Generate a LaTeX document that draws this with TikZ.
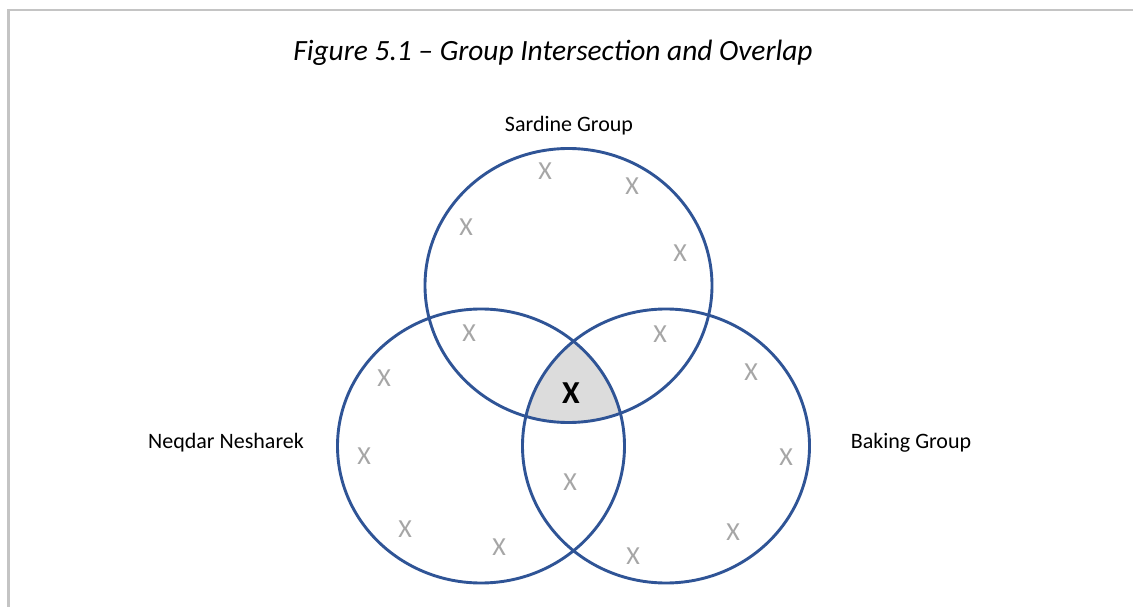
\documentclass[tikz,border=0pt]{standalone}
\usepackage{fontspec}
\setmainfont{Carlito}
\usetikzlibrary{shapes.geometric}
\definecolor{vblue}{HTML}{2F5496}
\definecolor{xgray}{HTML}{A6A6A6}
\definecolor{framegray}{HTML}{C4C4C4}
\definecolor{fillgray}{HTML}{DCDCDC}
\begin{document}
\begin{tikzpicture}[x=1pt,y=-1pt,
  venn/.style={draw=vblue,line width=2.9pt},
  xmark/.style={text=xgray,font=\fontsize{26}{26}\selectfont,inner sep=0pt},
  lbl/.style={font=\fontsize{22}{24}\selectfont,inner sep=0pt},
  frameline/.style={draw=framegray,line width=2.4pt}]
\useasboundingbox (0,0) rectangle (1133,607);
\fill[white] (0,0) rectangle (1133,607);
% frame
\coordinate (fTR) at (1133,10);
\coordinate (fTL) at (8.3,10);
\coordinate (fBL) at (8.3,607);
\draw[frameline] (fTR) -- (fTL) -- (fBL);
% intersection fill
\begin{scope}
  \clip (568.5,285.5) ellipse [x radius=143.5, y radius=137];
  \clip (481,446) ellipse [x radius=143.5, y radius=137];
  \fill[fillgray] (666,446) ellipse [x radius=143.5, y radius=137];
\end{scope}
% circles
\draw[venn] (568.5,285.5) ellipse [x radius=143.5, y radius=137];
\draw[venn] (481,446) ellipse [x radius=143.5, y radius=137];
\draw[venn] (666,446) ellipse [x radius=143.5, y radius=137];
% title and labels
\node[font=\fontsize{29.4}{32}\selectfont\itshape,inner sep=0pt] (title) at (553,53) {Figure 5.1 – Group Intersection and Overlap};
\node[lbl] (sardine) at (569,126) {Sardine Group};
\node[lbl] (neqdar) at (226,443) {Neqdar Nesharek};
\node[lbl] (baking) at (911,443) {Baking Group};
% gray X marks
\node[xmark] (x1) at (545,171) {X};
\node[xmark] (x2) at (632,186) {X};
\node[xmark] (x3) at (466,227) {X};
\node[xmark] (x4) at (680,253) {X};
\node[xmark] (x5) at (469,333) {X};
\node[xmark] (x6) at (660,334) {X};
\node[xmark] (x7) at (384,378) {X};
\node[xmark] (x8) at (364,456) {X};
\node[xmark] (x9) at (405,529) {X};
\node[xmark] (x10) at (499,547) {X};
\node[xmark] (x11) at (751,372) {X};
\node[xmark] (x12) at (786,457) {X};
\node[xmark] (x13) at (733,532) {X};
\node[xmark] (x14) at (633,556) {X};
\node[xmark] (x15) at (570,482) {X};
\node[font=\fontsize{32}{32}\selectfont\bfseries,inner sep=0pt] (xc) at (571,393) {X};
\end{tikzpicture}
\end{document}
